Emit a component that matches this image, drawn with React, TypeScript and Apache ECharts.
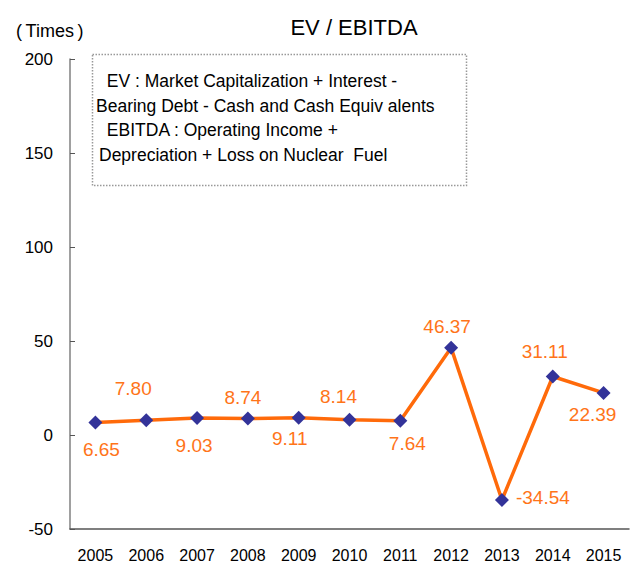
import React, { useEffect, useRef } from "react";
import * as echarts from "echarts";

const years = ["2005", "2006", "2007", "2008", "2009", "2010", "2011", "2012", "2013", "2014", "2015"];
const evEbitda = [6.65, 7.8, 9.03, 8.74, 9.11, 8.14, 7.64, 46.37, -34.54, 31.11, 22.39];
const yTicks = { min: -50, max: 200, interval: 50 };
const titleText = "EV / EBITDA";
const unitText = "(\u2009Times\u2009)";
const noteLines = [
  " EV : Market Capitalization + Interest -",
  "Bearing Debt - Cash and Cash Equiv alents",
  " EBITDA : Operating Income +",
  "Depreciation + Loss on Nuclear  Fuel",
];

// label placement styles (not data)
const labelStyles: any[] = [
  { position: "inside", offset: [6, 27] },
  { position: "inside", offset: [-13, -32] },
  { position: "inside", offset: [-3, 27] },
  { position: "inside", offset: [-5, -21] },
  { position: "inside", offset: [-9, 21] },
  { position: "inside", offset: [-11, -23] },
  { position: "inside", offset: [7, 23] },
  { position: "inside", offset: [-4, -21] },
  { position: "right", distance: 7, offset: [0, -2] },
  { position: "inside", offset: [-8, -25] },
  { position: "inside", offset: [-11, 22] },
];
const noteX = [102, 96, 102, 99];

const FONT = "'Liberation Sans', Arial, sans-serif";
const ORANGE_LINE = "#FF6A0A";
const ORANGE_TEXT = "#FF7419";

export default function App() {
  const ref = useRef<HTMLDivElement>(null);
  useEffect(() => {
    if (!ref.current) return;
    const chart = echarts.init(ref.current, undefined, { renderer: "svg" });
    chart.setOption({
      animation: false,
      backgroundColor: "#fff",
      textStyle: { fontFamily: FONT },
      title: {
        text: titleText,
        left: 349,
        textAlign: "center",
        top: 11,
        textStyle: { fontSize: 22, fontWeight: "normal", color: "#000", fontFamily: FONT },
      },
      grid: { left: 70, right: 3, top: 59, bottom: 38, containLabel: false },
      xAxis: {
        type: "category",
        data: years,
        boundaryGap: true,
        axisLine: { onZero: false, lineStyle: { color: "#555", width: 1.5 } },
        axisTick: { inside: true, length: 5, alignWithLabel: false, lineStyle: { color: "#555" } },
        axisLabel: { color: "#000", fontSize: 16, margin: 18, fontFamily: FONT, interval: 0 },
        splitLine: { show: false },
      },
      yAxis: {
        type: "value",
        min: yTicks.min,
        max: yTicks.max,
        interval: yTicks.interval,
        axisLine: { show: true, lineStyle: { color: "#808080", width: 1.5 } },
        axisTick: { show: true, inside: true, length: 5, lineStyle: { color: "#555" } },
        axisLabel: { color: "#000", fontSize: 17, margin: 17, fontFamily: FONT },
        splitLine: { show: false },
      },
      graphic: [
        {
          type: "text",
          x: 16,
          y: 31,
          style: {
            text: unitText,
            fontSize: 18,
            fill: "#000",
            fontFamily: FONT,
            verticalAlign: "middle",
          },
        },
        {
          type: "rect",
          shape: { x: 92.5, y: 54.5, width: 374, height: 131 },
          style: { fill: "none", stroke: "#999", lineWidth: 1.5, lineDash: [1.5, 1.5] },
          z: 10,
        },
        ...noteLines.map((t, i) => ({
          type: "text",
          x: noteX[i],
          y: 81 + i * 24.5,
          style: {
            text: t,
            fontSize: 17.5,
            fill: "#000",
            fontFamily: FONT,
            verticalAlign: "middle",
          },
          z: 10,
        })),
      ],
      series: [
        {
          type: "line",
          data: evEbitda.map((v, i) => ({ value: v, label: labelStyles[i] })),
          lineStyle: { color: ORANGE_LINE, width: 3.5 },
          itemStyle: { color: "#333399" },
          symbol: "diamond",
          symbolSize: 14,
          label: {
            show: true,
            color: ORANGE_TEXT,
            fontSize: 19,
            fontFamily: FONT,
            formatter: (p: any) => p.value.toFixed(2),
          },
        },
      ],
    });
    return () => chart.dispose();
  }, []);
  return <div ref={ref} style={{ width: 632, height: 567, position: "absolute", left: 0, top: 0 }} />;
}
